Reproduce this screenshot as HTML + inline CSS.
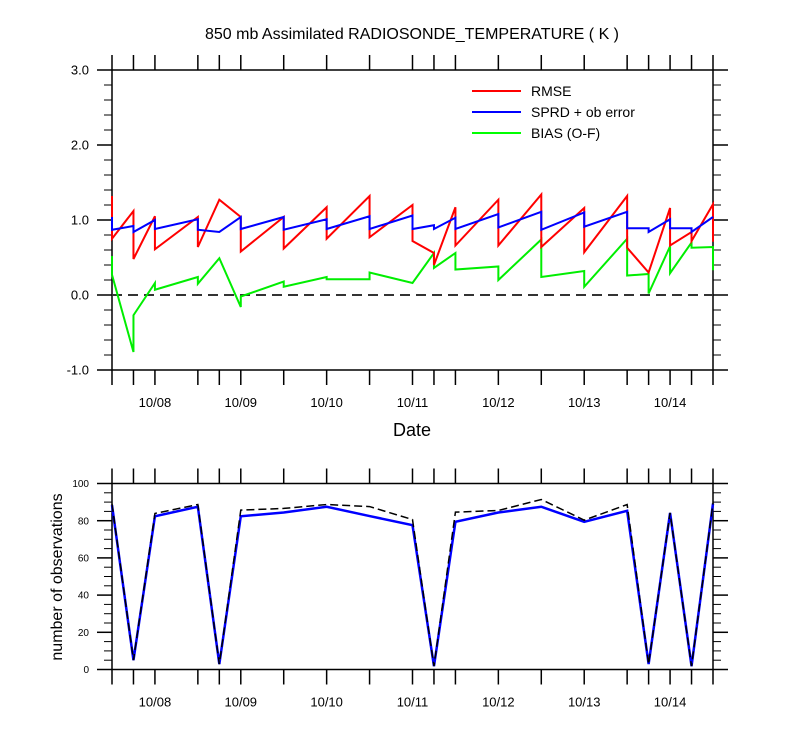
<!DOCTYPE html>
<html><head><meta charset="utf-8"><style>
body{margin:0;background:#fff}
text{font-family:"Liberation Sans",Arial,sans-serif}
</style></head><body>
<svg id="svg" width="800" height="750" xmlns="http://www.w3.org/2000/svg">
<text x="412" y="39" font-size="16" text-anchor="middle">850 mb Assimilated RADIOSONDE_TEMPERATURE ( K )</text>
<g id="top"></g>
<g id="bot"></g>
<text x="412" y="436" font-size="18" text-anchor="middle">Date</text>
<text transform="translate(62,577) rotate(-90)" font-size="16" text-anchor="middle">number of observations</text>
<g>
<line x1="472" y1="91" x2="521" y2="91" stroke="#ff0000" stroke-width="2"/>
<text x="531" y="96" font-size="14">RMSE</text>
<line x1="472" y1="112" x2="521" y2="112" stroke="#0000ff" stroke-width="2"/>
<text x="531" y="117" font-size="14">SPRD + ob error</text>
<line x1="472" y1="133" x2="521" y2="133" stroke="#00ff00" stroke-width="2"/>
<text x="531" y="138" font-size="14">BIAS (O-F)</text>
</g>
</svg>
<script>
// hours since 10/07 12Z
const times = [0,6,12,24,30,36,48,60,72,84,90,96,108,120,132,144,150,156,162,168];
const dateLabels = ["10/08","10/09","10/10","10/11","10/12","10/13","10/14"];
const dateHours = [12,36,60,84,108,132,156];
const rmseIn  = [1.32,1.12,1.05,1.04,1.27,1.04,1.04,1.17,1.32,1.20,0.56,1.17,1.27,1.34,1.16,1.32,0.30,1.16,0.84,1.21];
const rmseOut = [0.75,0.48,0.61,0.64,1.27,0.58,0.62,0.75,0.77,0.72,0.40,0.66,0.66,0.64,0.57,0.63,0.30,0.66,0.72,0.71];
const sprdIn  = [1.04,0.92,1.00,1.01,0.84,1.04,1.04,1.01,1.05,1.06,0.93,1.03,1.08,1.11,1.10,1.11,0.89,1.01,0.89,1.04];
const sprdOut = [0.87,0.84,0.88,0.87,0.84,0.88,0.87,0.88,0.88,0.88,0.88,0.88,0.90,0.87,0.91,0.89,0.84,0.89,0.84,1.04];
const biasIn  = [0.52,-0.76,0.16,0.24,0.49,-0.16,0.18,0.24,0.21,0.16,0.56,0.56,0.38,0.74,0.32,0.75,0.28,0.65,0.70,0.64];
const biasOut = [0.27,-0.27,0.07,0.15,0.49,-0.02,0.11,0.21,0.30,0.16,0.36,0.34,0.20,0.24,0.11,0.26,0.02,0.29,0.63,0.33];
const obsUsed  = [88.4,5,82.4,87.5,2.9,82.4,84.4,87.5,82.5,77.6,1.8,79.4,84.4,87.5,79.4,85.3,2.9,84.2,1.8,89.2];
const obsPoss  = [89,5,83.9,88.7,2.9,85.7,86.6,88.7,87.6,80.6,1.8,84.6,85.5,91.4,80.3,88.7,2.9,84.2,1.8,89.5];
const topTicks = [3,2,1,0,-1];
const topTickLabels = ["3.0","2.0","1.0","0.0","-1.0"];
const botTicks = [0,20,40,60,80,100];

const NS="http://www.w3.org/2000/svg";
const X0=112,X1=713;
const xs=h=>X0+(X1-X0)*h/168;
const yT=v=>295-75*v;
const yB=v=>669.5-1.86*v;
function mk(parent,tag,attrs){const e=document.createElementNS(NS,tag);for(const k in attrs)e.setAttribute(k,attrs[k]);parent.appendChild(e);return e;}
const gTop=document.getElementById('top'), gBot=document.getElementById('bot');

function frame(g,yTop,yBot,yFn,major,labels,minorStep,minV,maxV,fs,name){
  let r=mk(g,'rect',{x:X0,y:yTop,width:X1-X0,height:yBot-yTop,fill:'none',stroke:'#000','stroke-width':1.5});
  
  
  times.forEach(h=>{
    let l=mk(g,'line',{x1:xs(h),x2:xs(h),y1:yTop-15,y2:yTop,stroke:'#000','stroke-width':1.5});
    
    
    let l2=mk(g,'line',{x1:xs(h),x2:xs(h),y1:yBot,y2:yBot+15,stroke:'#000','stroke-width':1.5});
    
    
  });
  for(let v=minV;v<=maxV+1e-9;v+=minorStep){
    const isMaj=major.some(m=>Math.abs(m-v)<1e-6);
    const len=isMaj?15:8;
    let a=mk(g,'line',{x1:X0-len,x2:X0,y1:yFn(v),y2:yFn(v),stroke:'#000','stroke-width':isMaj?1.5:1});
    
    
    let b=mk(g,'line',{x1:X1,x2:X1+len,y1:yFn(v),y2:yFn(v),stroke:'#000','stroke-width':isMaj?1.5:1});
    
    
  }
  major.forEach((m,i)=>{
    let t=mk(g,'text',{x:X0-23,y:yFn(m)+fs*0.36,'font-size':fs,'text-anchor':'end'});
    t.textContent=labels[i];
    
    
  });
  dateHours.forEach((h,i)=>{
    let t=mk(g,'text',{x:xs(h),y:yBot+37,'font-size':13,'text-anchor':'middle'});
    t.textContent=dateLabels[i];
    
    
  });
}
frame(gTop,70,370,yT,topTicks,topTickLabels,0.2,-1,3,13,'top');
frame(gBot,483.5,669.5,yB,botTicks,botTicks.map(String),5,0,100,10,'bottom');

let z=mk(gTop,'line',{x1:X0,x2:X1,y1:yT(0),y2:yT(0),stroke:'#333','stroke-width':2,'stroke-dasharray':'10,6'});



function saw(inA,outA){let p=[];times.forEach((h,i)=>{p.push(xs(h)+','+yT(inA[i]));p.push(xs(h)+','+yT(outA[i]));});return p.join(' ');}
let pb=mk(gTop,'polyline',{points:saw(biasIn,biasOut),fill:'none',stroke:'#00ee00','stroke-width':2});


let pr=mk(gTop,'polyline',{points:saw(rmseIn,rmseOut),fill:'none',stroke:'#ff0000','stroke-width':2});


let ps=mk(gTop,'polyline',{points:saw(sprdIn,sprdOut),fill:'none',stroke:'#0000ff','stroke-width':2});



let ou=mk(gBot,'polyline',{points:times.map((h,i)=>xs(h)+','+yB(obsUsed[i])).join(' '),fill:'none',stroke:'#0000ff','stroke-width':2.5});


let op=mk(gBot,'polyline',{points:times.map((h,i)=>xs(h)+','+yB(obsPoss[i])).join(' '),fill:'none',stroke:'#000','stroke-width':1.5,'stroke-dasharray':'8,4'});


</script>
</body></html>
